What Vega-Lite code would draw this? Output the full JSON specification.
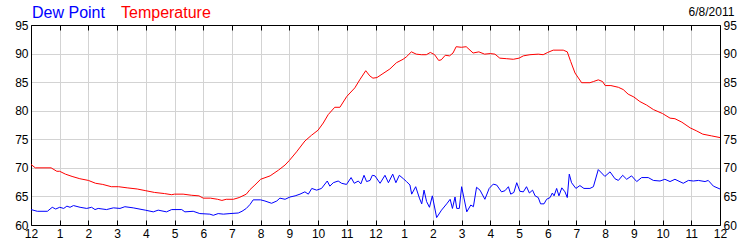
{
  "$schema": "https://vega.github.io/schema/vega-lite/v6.json",
  "autosize": {"type": "none"},
  "padding": {"left": 31, "top": 25, "right": 30, "bottom": 25},
  "width": 689,
  "height": 200,
  "background": "white",
  "config": {
    "font": "Liberation Sans",
    "view": {"stroke": null},
    "axis": {"labelFont": "Liberation Sans", "labelFontSize": 12, "labelColor": "black", "title": null}
  },
  "title": {"text": "6/8/2011", "anchor": "end", "fontSize": 12, "fontWeight": "normal", "color": "black", "font": "Liberation Sans", "offset": 8, "dx": -2, "dy": 30},
  "datasets": {
    "temperature": [
      {"hour": 0, "value": 70.6, "series": "Temperature"},
      {"hour": 0.15, "value": 70.0, "series": "Temperature"},
      {"hour": 0.7, "value": 70.0, "series": "Temperature"},
      {"hour": 0.9, "value": 69.4, "series": "Temperature"},
      {"hour": 1.0, "value": 69.4, "series": "Temperature"},
      {"hour": 1.2, "value": 68.9, "series": "Temperature"},
      {"hour": 1.43, "value": 68.5, "series": "Temperature"},
      {"hour": 1.7, "value": 68.1, "series": "Temperature"},
      {"hour": 2.0, "value": 67.8, "series": "Temperature"},
      {"hour": 2.25, "value": 67.3, "series": "Temperature"},
      {"hour": 2.5, "value": 67.1, "series": "Temperature"},
      {"hour": 2.8, "value": 66.7, "series": "Temperature"},
      {"hour": 3.05, "value": 66.7, "series": "Temperature"},
      {"hour": 3.35, "value": 66.5, "series": "Temperature"},
      {"hour": 3.7, "value": 66.3, "series": "Temperature"},
      {"hour": 4.0, "value": 66.0, "series": "Temperature"},
      {"hour": 4.3, "value": 65.7, "series": "Temperature"},
      {"hour": 4.65, "value": 65.5, "series": "Temperature"},
      {"hour": 4.9, "value": 65.3, "series": "Temperature"},
      {"hour": 5.0, "value": 65.4, "series": "Temperature"},
      {"hour": 5.3, "value": 65.4, "series": "Temperature"},
      {"hour": 5.6, "value": 65.2, "series": "Temperature"},
      {"hour": 5.85, "value": 65.1, "series": "Temperature"},
      {"hour": 6.0, "value": 64.7, "series": "Temperature"},
      {"hour": 6.25, "value": 64.7, "series": "Temperature"},
      {"hour": 6.5, "value": 64.5, "series": "Temperature"},
      {"hour": 6.65, "value": 64.3, "series": "Temperature"},
      {"hour": 6.8, "value": 64.5, "series": "Temperature"},
      {"hour": 7.05, "value": 64.5, "series": "Temperature"},
      {"hour": 7.25, "value": 64.8, "series": "Temperature"},
      {"hour": 7.5, "value": 65.4, "series": "Temperature"},
      {"hour": 7.63, "value": 66.2, "series": "Temperature"},
      {"hour": 7.8, "value": 67.0, "series": "Temperature"},
      {"hour": 8.0, "value": 68.0, "series": "Temperature"},
      {"hour": 8.33, "value": 68.6, "series": "Temperature"},
      {"hour": 8.62, "value": 69.6, "series": "Temperature"},
      {"hour": 8.85, "value": 70.5, "series": "Temperature"},
      {"hour": 9.0, "value": 71.3, "series": "Temperature"},
      {"hour": 9.25, "value": 72.8, "series": "Temperature"},
      {"hour": 9.54, "value": 74.7, "series": "Temperature"},
      {"hour": 9.77, "value": 75.7, "series": "Temperature"},
      {"hour": 10.0, "value": 76.6, "series": "Temperature"},
      {"hour": 10.18, "value": 77.85, "series": "Temperature"},
      {"hour": 10.35, "value": 79.3, "series": "Temperature"},
      {"hour": 10.58, "value": 80.6, "series": "Temperature"},
      {"hour": 10.76, "value": 80.6, "series": "Temperature"},
      {"hour": 11.0, "value": 82.5, "series": "Temperature"},
      {"hour": 11.28, "value": 84.0, "series": "Temperature"},
      {"hour": 11.45, "value": 85.4, "series": "Temperature"},
      {"hour": 11.66, "value": 87.0, "series": "Temperature"},
      {"hour": 11.8, "value": 86.1, "series": "Temperature"},
      {"hour": 11.91, "value": 85.7, "series": "Temperature"},
      {"hour": 12.05, "value": 85.8, "series": "Temperature"},
      {"hour": 12.26, "value": 86.5, "series": "Temperature"},
      {"hour": 12.5, "value": 87.3, "series": "Temperature"},
      {"hour": 12.73, "value": 88.4, "series": "Temperature"},
      {"hour": 12.96, "value": 89.0, "series": "Temperature"},
      {"hour": 13.07, "value": 89.4, "series": "Temperature"},
      {"hour": 13.25, "value": 90.3, "series": "Temperature"},
      {"hour": 13.42, "value": 89.9, "series": "Temperature"},
      {"hour": 13.6, "value": 89.8, "series": "Temperature"},
      {"hour": 13.77, "value": 89.8, "series": "Temperature"},
      {"hour": 13.91, "value": 90.2, "series": "Temperature"},
      {"hour": 14.06, "value": 89.8, "series": "Temperature"},
      {"hour": 14.2, "value": 88.8, "series": "Temperature"},
      {"hour": 14.29, "value": 88.9, "series": "Temperature"},
      {"hour": 14.43, "value": 89.7, "series": "Temperature"},
      {"hour": 14.58, "value": 89.6, "series": "Temperature"},
      {"hour": 14.7, "value": 90.1, "series": "Temperature"},
      {"hour": 14.81, "value": 91.2, "series": "Temperature"},
      {"hour": 14.99, "value": 91.1, "series": "Temperature"},
      {"hour": 15.16, "value": 91.2, "series": "Temperature"},
      {"hour": 15.4, "value": 90.1, "series": "Temperature"},
      {"hour": 15.6, "value": 90.3, "series": "Temperature"},
      {"hour": 15.8, "value": 89.9, "series": "Temperature"},
      {"hour": 16.0, "value": 90.0, "series": "Temperature"},
      {"hour": 16.16, "value": 89.9, "series": "Temperature"},
      {"hour": 16.33, "value": 89.2, "series": "Temperature"},
      {"hour": 16.57, "value": 89.1, "series": "Temperature"},
      {"hour": 16.8, "value": 89.0, "series": "Temperature"},
      {"hour": 17.0, "value": 89.2, "series": "Temperature"},
      {"hour": 17.15, "value": 89.6, "series": "Temperature"},
      {"hour": 17.38, "value": 89.8, "series": "Temperature"},
      {"hour": 17.67, "value": 89.9, "series": "Temperature"},
      {"hour": 17.84, "value": 89.8, "series": "Temperature"},
      {"hour": 18.0, "value": 90.2, "series": "Temperature"},
      {"hour": 18.19, "value": 90.6, "series": "Temperature"},
      {"hour": 18.54, "value": 90.6, "series": "Temperature"},
      {"hour": 18.68, "value": 90.3, "series": "Temperature"},
      {"hour": 18.8, "value": 88.6, "series": "Temperature"},
      {"hour": 18.95, "value": 86.6, "series": "Temperature"},
      {"hour": 19.18, "value": 84.9, "series": "Temperature"},
      {"hour": 19.47, "value": 84.9, "series": "Temperature"},
      {"hour": 19.59, "value": 85.1, "series": "Temperature"},
      {"hour": 19.76, "value": 85.4, "series": "Temperature"},
      {"hour": 19.91, "value": 85.1, "series": "Temperature"},
      {"hour": 20.0, "value": 84.4, "series": "Temperature"},
      {"hour": 20.2, "value": 84.4, "series": "Temperature"},
      {"hour": 20.46, "value": 84.1, "series": "Temperature"},
      {"hour": 20.63, "value": 83.7, "series": "Temperature"},
      {"hour": 20.8, "value": 82.9, "series": "Temperature"},
      {"hour": 21.0, "value": 82.4, "series": "Temperature"},
      {"hour": 21.21, "value": 81.6, "series": "Temperature"},
      {"hour": 21.44, "value": 81.0, "series": "Temperature"},
      {"hour": 21.68, "value": 80.2, "series": "Temperature"},
      {"hour": 22.0, "value": 79.5, "series": "Temperature"},
      {"hour": 22.26, "value": 78.7, "series": "Temperature"},
      {"hour": 22.43, "value": 78.6, "series": "Temperature"},
      {"hour": 22.67, "value": 78.0, "series": "Temperature"},
      {"hour": 22.96, "value": 77.0, "series": "Temperature"},
      {"hour": 23.17, "value": 76.5, "series": "Temperature"},
      {"hour": 23.4, "value": 75.9, "series": "Temperature"},
      {"hour": 23.7, "value": 75.6, "series": "Temperature"},
      {"hour": 24.0, "value": 75.3, "series": "Temperature"}
    ],
    "dewpoint": [
      {"hour": 0, "value": 62.7, "series": "Dew Point"},
      {"hour": 0.22, "value": 62.4, "series": "Dew Point"},
      {"hour": 0.57, "value": 62.4, "series": "Dew Point"},
      {"hour": 0.74, "value": 63.1, "series": "Dew Point"},
      {"hour": 0.86, "value": 62.8, "series": "Dew Point"},
      {"hour": 1.0, "value": 63.1, "series": "Dew Point"},
      {"hour": 1.14, "value": 62.9, "series": "Dew Point"},
      {"hour": 1.25, "value": 63.3, "series": "Dew Point"},
      {"hour": 1.36, "value": 63.1, "series": "Dew Point"},
      {"hour": 1.48, "value": 63.4, "series": "Dew Point"},
      {"hour": 1.71, "value": 63.1, "series": "Dew Point"},
      {"hour": 1.94, "value": 62.9, "series": "Dew Point"},
      {"hour": 2.11, "value": 63.1, "series": "Dew Point"},
      {"hour": 2.23, "value": 62.7, "series": "Dew Point"},
      {"hour": 2.34, "value": 62.9, "series": "Dew Point"},
      {"hour": 2.63, "value": 62.7, "series": "Dew Point"},
      {"hour": 2.87, "value": 63.0, "series": "Dew Point"},
      {"hour": 3.1, "value": 62.9, "series": "Dew Point"},
      {"hour": 3.27, "value": 63.2, "series": "Dew Point"},
      {"hour": 3.56, "value": 63.0, "series": "Dew Point"},
      {"hour": 3.98, "value": 62.6, "series": "Dew Point"},
      {"hour": 4.26, "value": 62.3, "series": "Dew Point"},
      {"hour": 4.43, "value": 62.6, "series": "Dew Point"},
      {"hour": 4.72, "value": 62.3, "series": "Dew Point"},
      {"hour": 4.9, "value": 62.7, "series": "Dew Point"},
      {"hour": 5.25, "value": 62.7, "series": "Dew Point"},
      {"hour": 5.36, "value": 62.3, "series": "Dew Point"},
      {"hour": 5.65, "value": 62.4, "series": "Dew Point"},
      {"hour": 5.88, "value": 62.0, "series": "Dew Point"},
      {"hour": 6.23, "value": 61.9, "series": "Dew Point"},
      {"hour": 6.35, "value": 61.7, "series": "Dew Point"},
      {"hour": 6.52, "value": 62.0, "series": "Dew Point"},
      {"hour": 6.7, "value": 61.9, "series": "Dew Point"},
      {"hour": 6.93, "value": 62.0, "series": "Dew Point"},
      {"hour": 7.22, "value": 62.1, "series": "Dew Point"},
      {"hour": 7.35, "value": 62.4, "series": "Dew Point"},
      {"hour": 7.5, "value": 62.9, "series": "Dew Point"},
      {"hour": 7.63, "value": 63.6, "series": "Dew Point"},
      {"hour": 7.74, "value": 64.4, "series": "Dew Point"},
      {"hour": 8.0, "value": 64.4, "series": "Dew Point"},
      {"hour": 8.15, "value": 64.2, "series": "Dew Point"},
      {"hour": 8.38, "value": 63.8, "series": "Dew Point"},
      {"hour": 8.56, "value": 64.2, "series": "Dew Point"},
      {"hour": 8.67, "value": 64.7, "series": "Dew Point"},
      {"hour": 8.85, "value": 64.5, "series": "Dew Point"},
      {"hour": 9.02, "value": 64.9, "series": "Dew Point"},
      {"hour": 9.2, "value": 65.1, "series": "Dew Point"},
      {"hour": 9.37, "value": 65.4, "series": "Dew Point"},
      {"hour": 9.54, "value": 65.8, "series": "Dew Point"},
      {"hour": 9.66, "value": 65.4, "series": "Dew Point"},
      {"hour": 9.78, "value": 66.4, "series": "Dew Point"},
      {"hour": 9.95, "value": 66.1, "series": "Dew Point"},
      {"hour": 10.12, "value": 66.4, "series": "Dew Point"},
      {"hour": 10.32, "value": 67.7, "series": "Dew Point"},
      {"hour": 10.41, "value": 66.8, "series": "Dew Point"},
      {"hour": 10.53, "value": 67.4, "series": "Dew Point"},
      {"hour": 10.7, "value": 67.7, "series": "Dew Point"},
      {"hour": 10.82, "value": 67.3, "series": "Dew Point"},
      {"hour": 10.99, "value": 67.1, "series": "Dew Point"},
      {"hour": 11.15, "value": 68.3, "series": "Dew Point"},
      {"hour": 11.26, "value": 67.3, "series": "Dew Point"},
      {"hour": 11.4, "value": 67.7, "series": "Dew Point"},
      {"hour": 11.49, "value": 67.2, "series": "Dew Point"},
      {"hour": 11.6, "value": 68.7, "series": "Dew Point"},
      {"hour": 11.69, "value": 67.6, "series": "Dew Point"},
      {"hour": 11.81, "value": 67.8, "series": "Dew Point"},
      {"hour": 11.89, "value": 68.7, "series": "Dew Point"},
      {"hour": 11.98, "value": 68.6, "series": "Dew Point"},
      {"hour": 12.16, "value": 67.3, "series": "Dew Point"},
      {"hour": 12.33, "value": 68.7, "series": "Dew Point"},
      {"hour": 12.45, "value": 67.4, "series": "Dew Point"},
      {"hour": 12.6, "value": 68.9, "series": "Dew Point"},
      {"hour": 12.71, "value": 67.4, "series": "Dew Point"},
      {"hour": 12.83, "value": 68.7, "series": "Dew Point"},
      {"hour": 12.97, "value": 68.1, "series": "Dew Point"},
      {"hour": 13.08, "value": 67.6, "series": "Dew Point"},
      {"hour": 13.2, "value": 67.0, "series": "Dew Point"},
      {"hour": 13.26, "value": 65.4, "series": "Dew Point"},
      {"hour": 13.4, "value": 66.7, "series": "Dew Point"},
      {"hour": 13.53, "value": 64.7, "series": "Dew Point"},
      {"hour": 13.61, "value": 63.7, "series": "Dew Point"},
      {"hour": 13.69, "value": 66.1, "series": "Dew Point"},
      {"hour": 13.78, "value": 64.1, "series": "Dew Point"},
      {"hour": 13.88, "value": 63.1, "series": "Dew Point"},
      {"hour": 13.98, "value": 65.1, "series": "Dew Point"},
      {"hour": 14.13, "value": 61.3, "series": "Dew Point"},
      {"hour": 14.3, "value": 62.6, "series": "Dew Point"},
      {"hour": 14.48, "value": 63.7, "series": "Dew Point"},
      {"hour": 14.6, "value": 64.5, "series": "Dew Point"},
      {"hour": 14.68, "value": 62.9, "series": "Dew Point"},
      {"hour": 14.77, "value": 64.9, "series": "Dew Point"},
      {"hour": 14.83, "value": 62.9, "series": "Dew Point"},
      {"hour": 14.92, "value": 62.9, "series": "Dew Point"},
      {"hour": 15.0, "value": 66.7, "series": "Dew Point"},
      {"hour": 15.18, "value": 62.3, "series": "Dew Point"},
      {"hour": 15.32, "value": 63.5, "series": "Dew Point"},
      {"hour": 15.41, "value": 63.2, "series": "Dew Point"},
      {"hour": 15.52, "value": 66.6, "series": "Dew Point"},
      {"hour": 15.64, "value": 66.1, "series": "Dew Point"},
      {"hour": 15.81, "value": 64.5, "series": "Dew Point"},
      {"hour": 15.96, "value": 66.4, "series": "Dew Point"},
      {"hour": 16.1, "value": 67.15, "series": "Dew Point"},
      {"hour": 16.22, "value": 67.0, "series": "Dew Point"},
      {"hour": 16.39, "value": 65.8, "series": "Dew Point"},
      {"hour": 16.51, "value": 66.0, "series": "Dew Point"},
      {"hour": 16.63, "value": 66.7, "series": "Dew Point"},
      {"hour": 16.71, "value": 65.4, "series": "Dew Point"},
      {"hour": 16.82, "value": 65.7, "series": "Dew Point"},
      {"hour": 16.92, "value": 67.4, "series": "Dew Point"},
      {"hour": 17.03, "value": 65.9, "series": "Dew Point"},
      {"hour": 17.15, "value": 65.8, "series": "Dew Point"},
      {"hour": 17.26, "value": 66.7, "series": "Dew Point"},
      {"hour": 17.36, "value": 65.6, "series": "Dew Point"},
      {"hour": 17.47, "value": 66.1, "series": "Dew Point"},
      {"hour": 17.56, "value": 65.1, "series": "Dew Point"},
      {"hour": 17.67, "value": 64.8, "series": "Dew Point"},
      {"hour": 17.75, "value": 63.7, "series": "Dew Point"},
      {"hour": 17.87, "value": 63.7, "series": "Dew Point"},
      {"hour": 17.96, "value": 64.5, "series": "Dew Point"},
      {"hour": 18.08, "value": 64.8, "series": "Dew Point"},
      {"hour": 18.16, "value": 65.6, "series": "Dew Point"},
      {"hour": 18.22, "value": 65.1, "series": "Dew Point"},
      {"hour": 18.31, "value": 66.4, "series": "Dew Point"},
      {"hour": 18.39, "value": 65.1, "series": "Dew Point"},
      {"hour": 18.49, "value": 66.5, "series": "Dew Point"},
      {"hour": 18.6, "value": 65.8, "series": "Dew Point"},
      {"hour": 18.68, "value": 64.8, "series": "Dew Point"},
      {"hour": 18.75, "value": 68.9, "series": "Dew Point"},
      {"hour": 18.83, "value": 67.4, "series": "Dew Point"},
      {"hour": 18.98, "value": 66.4, "series": "Dew Point"},
      {"hour": 19.12, "value": 66.9, "series": "Dew Point"},
      {"hour": 19.26, "value": 66.4, "series": "Dew Point"},
      {"hour": 19.47, "value": 66.4, "series": "Dew Point"},
      {"hour": 19.59, "value": 66.7, "series": "Dew Point"},
      {"hour": 19.76, "value": 69.7, "series": "Dew Point"},
      {"hour": 19.99, "value": 68.5, "series": "Dew Point"},
      {"hour": 20.17, "value": 69.3, "series": "Dew Point"},
      {"hour": 20.34, "value": 68.1, "series": "Dew Point"},
      {"hour": 20.46, "value": 67.8, "series": "Dew Point"},
      {"hour": 20.61, "value": 68.7, "series": "Dew Point"},
      {"hour": 20.75, "value": 68.0, "series": "Dew Point"},
      {"hour": 20.92, "value": 68.6, "series": "Dew Point"},
      {"hour": 21.1, "value": 67.6, "series": "Dew Point"},
      {"hour": 21.27, "value": 68.3, "series": "Dew Point"},
      {"hour": 21.5, "value": 68.3, "series": "Dew Point"},
      {"hour": 21.68, "value": 67.8, "series": "Dew Point"},
      {"hour": 21.91, "value": 67.7, "series": "Dew Point"},
      {"hour": 22.08, "value": 68.0, "series": "Dew Point"},
      {"hour": 22.26, "value": 67.6, "series": "Dew Point"},
      {"hour": 22.43, "value": 68.0, "series": "Dew Point"},
      {"hour": 22.72, "value": 67.3, "series": "Dew Point"},
      {"hour": 22.9, "value": 67.8, "series": "Dew Point"},
      {"hour": 23.07, "value": 67.7, "series": "Dew Point"},
      {"hour": 23.25, "value": 67.8, "series": "Dew Point"},
      {"hour": 23.48, "value": 67.6, "series": "Dew Point"},
      {"hour": 23.59, "value": 67.8, "series": "Dew Point"},
      {"hour": 23.77, "value": 66.8, "series": "Dew Point"},
      {"hour": 24.0, "value": 66.3, "series": "Dew Point"}
    ]
  },
  "layer": [
    {
      "data": {"name": "temperature"},
      "mark": {"type": "line", "strokeWidth": 1, "interpolate": "linear"},
      "encoding": {
        "x": {
          "field": "hour", "type": "quantitative",
          "scale": {"domain": [0, 24], "nice": false, "zero": false},
          "axis": {
            "orient": "bottom", "values": [0,1,2,3,4,5,6,7,8,9,10,11,12,13,14,15,16,17,18,19,20,21,22,23,24],
            "labelExpr": "datum.value % 12 == 0 ? '12' : '' + (datum.value % 12)",
            "grid": true, "gridColor": "#d3d3d3", "gridWidth": 1,
            "domain": true, "domainColor": "black", "domainWidth": 1,
            "ticks": true, "tickSize": -5, "tickColor": "black",
            "labelPadding": 8, "labelFlush": false, "labelOverlap": false
          }
        },
        "y": {
          "field": "value", "type": "quantitative",
          "scale": {"domain": [60, 95], "nice": false, "zero": false},
          "axis": {
            "orient": "left", "values": [60,65,70,75,80,85,90,95],
            "grid": true, "gridColor": "#d3d3d3", "gridWidth": 1,
            "domain": true, "domainColor": "black",
            "ticks": false, "labelPadding": 3, "labelFlush": false, "labelOverlap": false
          }
        },
        "color": {
          "field": "series", "type": "nominal",
          "scale": {"domain": ["Dew Point", "Temperature"], "range": ["#0000ff", "#ff0000"]},
          "legend": {
            "orient": "none", "legendX": 2, "legendY": -28, "direction": "horizontal",
            "title": null, "padding": 0, "symbolSize": 0, "symbolStrokeWidth": 0, "symbolOpacity": 0,
            "labelOffset": -17, "columnPadding": 16, "labelFontSize": 16, "labelFont": "Liberation Sans",
            "labelBaseline": "top",
            "labelLimit": 300,
            "encode": {"labels": {"update": {"fill": {"signal": "datum.value === 'Dew Point' ? '#0000ff' : '#ff0000'"}}}}
          }
        }
      }
    },
    {
      "data": {"name": "dewpoint"},
      "mark": {"type": "line", "strokeWidth": 1, "interpolate": "linear"},
      "encoding": {
        "x": {
          "field": "hour", "type": "quantitative",
          "axis": {
            "orient": "top", "values": [0,1,2,3,4,5,6,7,8,9,10,11,12,13,14,15,16,17,18,19,20,21,22,23,24],
            "labels": false, "grid": false,
            "domain": true, "domainColor": "black",
            "ticks": true, "tickSize": -5, "tickColor": "black"
          }
        },
        "y": {
          "field": "value", "type": "quantitative",
          "axis": {
            "orient": "right", "values": [60,65,70,75,80,85,90,95],
            "grid": false, "domain": true, "domainColor": "black",
            "ticks": false, "labelPadding": 3, "labelFlush": false, "labelOverlap": false
          }
        },
        "color": {"field": "series", "type": "nominal"}
      }
    }
  ],
  "resolve": {"axis": {"x": "independent", "y": "independent"}}
}
